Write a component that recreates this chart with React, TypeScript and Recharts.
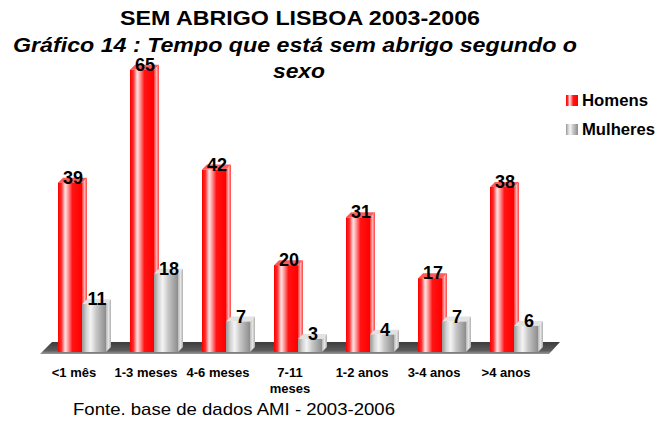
import React from "react";
import { BarChart, Bar, XAxis, YAxis, LabelList } from "recharts";

const categories = ["<1 mês", "1-3 meses", "4-6 meses", "7-11\nmeses", "1-2 anos", "3-4 anos", ">4 anos"];
const homens = [39, 65, 42, 20, 31, 17, 38];
const mulheres = [11, 18, 7, 3, 4, 7, 6];
const seriesNames = ["Homens", "Mulheres"];

const data = categories.map((c, i) => ({ cat: c, Homens: homens[i], Mulheres: mulheres[i] }));

const W = 657;
const H = 425;
const FONT = "'Liberation Sans', Arial, Helvetica, sans-serif";
const DEPTH = 5;

const palettes: Record<string, { front: string; side: string; top: string }> = {
  Homens: { front: "url(#redFront)", side: "url(#redSide)", top: "#ff5a5a" },
  Mulheres: { front: "url(#grayFront)", side: "url(#graySide)", top: "#e2e2e2" },
};

const makeShape = (name: string) => (props: any) => {
  const { x, y, width, height } = props;
  if (height == null || height <= 0) return null;
  const p = palettes[name];
  const d = DEPTH;
  return (
    <g>
      <polygon
        points={`${x + width},${y} ${x + width + d},${y - d} ${x + width + d},${y + height - d} ${x + width},${y + height}`}
        fill={p.side}
      />
      <polygon
        points={`${x},${y} ${x + d},${y - d} ${x + width + d},${y - d} ${x + width},${y}`}
        fill={p.top}
      />
      <rect x={x} y={y} width={width} height={height} fill={p.front} />
    </g>
  );
};

const ValueLabel = (props: any) => {
  const { x, y, width, value } = props;
  return (
    <text
      x={x + width / 2 + 3}
      y={y + 1}
      textAnchor="middle"
      fontFamily={FONT}
      fontWeight="bold"
      fontSize={18}
      fill="#000"
    >
      {value}
    </text>
  );
};

const Tick = (props: any) => {
  const { x, y, payload } = props;
  const lines = String(payload.value).split("\n");
  return (
    <g>
      {lines.map((l, i) => (
        <text
          key={i}
          x={x - 8}
          y={y + 25 + i * 16}
          textAnchor="middle"
          fontFamily={FONT}
          fontWeight="bold"
          fontSize={13}
          fill="#000"
        >
          {l}
        </text>
      ))}
    </g>
  );
};

const Background = () => (
  <svg width={W} height={H} style={{ position: "absolute", left: 0, top: 0 }}>
    <defs>
      <linearGradient id="redFront" x1="0" y1="0" x2="1" y2="0">
        <stop offset="0" stopColor="#ff0000" />
        <stop offset="0.14" stopColor="#ff2a2a" />
        <stop offset="0.3" stopColor="#ffe6e6" />
        <stop offset="0.42" stopColor="#ff9a9a" />
        <stop offset="0.6" stopColor="#ff1414" />
        <stop offset="1" stopColor="#ff0000" />
      </linearGradient>
      <linearGradient id="redSide" x1="0" y1="0" x2="1" y2="0">
        <stop offset="0" stopColor="#ff3030" />
        <stop offset="0.5" stopColor="#ffb0b0" />
        <stop offset="1" stopColor="#ff4040" />
      </linearGradient>
      <linearGradient id="grayFront" x1="0" y1="0" x2="1" y2="0">
        <stop offset="0" stopColor="#979797" />
        <stop offset="0.2" stopColor="#d6d6d6" />
        <stop offset="0.36" stopColor="#f4f4f4" />
        <stop offset="0.6" stopColor="#c6c6c6" />
        <stop offset="0.85" stopColor="#a2a2a2" />
        <stop offset="1" stopColor="#8c8c8c" />
      </linearGradient>
      <linearGradient id="graySide" x1="0" y1="0" x2="1" y2="0">
        <stop offset="0" stopColor="#b8b8b8" />
        <stop offset="0.5" stopColor="#e4e4e4" />
        <stop offset="1" stopColor="#b0b0b0" />
      </linearGradient>
      <linearGradient id="floorGrad" x1="0" y1="0" x2="0" y2="1">
        <stop offset="0" stopColor="#3c3c3c" />
        <stop offset="0.7" stopColor="#5a5a5a" />
        <stop offset="1" stopColor="#9a9a9a" />
      </linearGradient>
    </defs>
    <polygon points="52,342 560,342 549,354 40,354" fill="url(#floorGrad)" />
    <text x={120} y={25} textLength={360} lengthAdjust="spacingAndGlyphs" fontFamily={FONT} fontWeight="bold" fontSize={20} fill="#000">
      SEM ABRIGO LISBOA 2003-2006
    </text>
    <text x={13} y={52} textLength={564} lengthAdjust="spacingAndGlyphs" fontFamily={FONT} fontWeight="bold" fontStyle="italic" fontSize={20} fill="#000">
      Gráfico 14 : Tempo que está sem abrigo segundo o
    </text>
    <text x={273} y={78} textLength={52} lengthAdjust="spacingAndGlyphs" fontFamily={FONT} fontWeight="bold" fontStyle="italic" fontSize={20} fill="#000">
      sexo
    </text>
    <rect x={566} y={95} width={12} height={11} fill="url(#redFront)" />
    <text x={582} y={106} textLength={66} lengthAdjust="spacingAndGlyphs" fontFamily={FONT} fontWeight="bold" fontSize={16} fill="#000">
      {seriesNames[0]}
    </text>
    <rect x={566} y={124} width={12} height={11} fill="url(#grayFront)" />
    <text x={582} y={135} textLength={73} lengthAdjust="spacingAndGlyphs" fontFamily={FONT} fontWeight="bold" fontSize={16} fill="#000">
      {seriesNames[1]}
    </text>
    <text x={73} y={415} textLength={322} lengthAdjust="spacingAndGlyphs" fontFamily={FONT} fontSize={17} fill="#000">
      Fonte. base de dados AMI - 2003-2006
    </text>
  </svg>
);

export default function App() {
  return (
    <div style={{ position: "absolute", left: 0, top: 0, width: W, height: H, background: "#fff" }}>
      <Background />
      <div style={{ position: "absolute", left: 0, top: 0 }}>
        <BarChart
          width={W}
          height={H}
          data={data}
          margin={{ top: 48, right: 107, bottom: 33, left: 46 }}
          barSize={24}
          barGap={0}
        >
          <XAxis dataKey="cat" height={40} axisLine={false} tickLine={false} tickSize={0} tickMargin={0} tick={<Tick />} interval={0} />
          <YAxis hide domain={[0, 70]} />
          <Bar dataKey="Homens" isAnimationActive={false} shape={makeShape("Homens")}>
            <LabelList dataKey="Homens" content={<ValueLabel />} />
          </Bar>
          <Bar dataKey="Mulheres" isAnimationActive={false} shape={makeShape("Mulheres")}>
            <LabelList dataKey="Mulheres" content={<ValueLabel />} />
          </Bar>
        </BarChart>
      </div>
    </div>
  );
}
